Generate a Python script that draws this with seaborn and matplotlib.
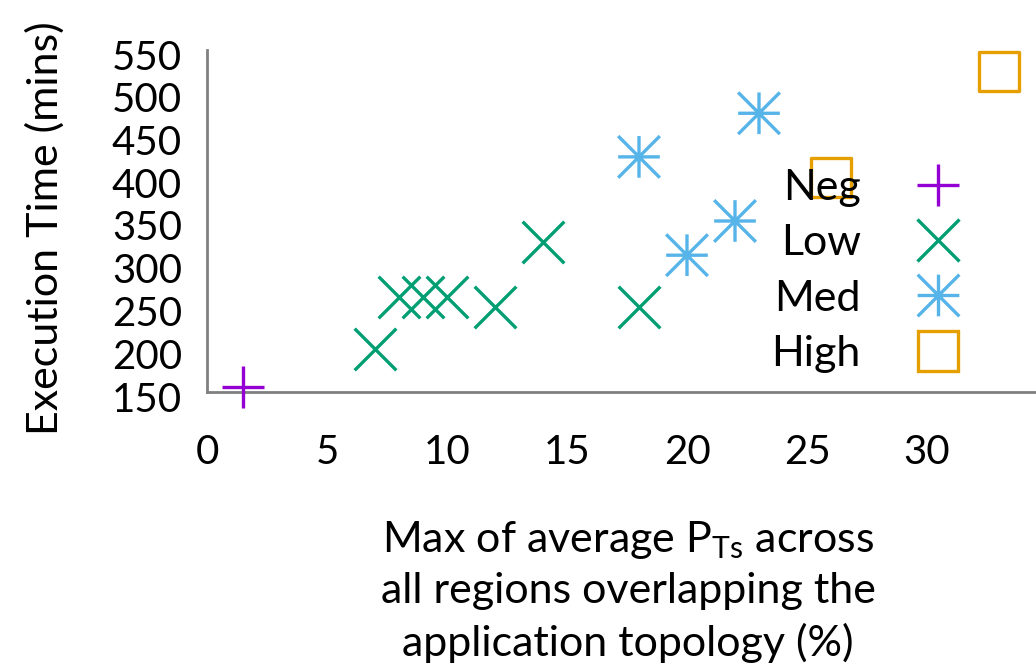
import numpy as np
import pandas as pd
import matplotlib
matplotlib.use("Agg")
import matplotlib.pyplot as plt
import matplotlib.transforms as mtransforms
import seaborn as sns
from matplotlib.lines import Line2D
from matplotlib.path import Path

# ---- data ----
categories = ["Neg", "Low", "Med", "High"]
neg_x = [1.5]
neg_y = [156]
low_x = [7.0, 8.0, 9.0, 10.0, 12.0, 14.0, 18.0]
low_y = [200, 261, 261, 261, 250, 325, 250]
med_x = [18.0, 20.0, 22.0, 23.0]
med_y = [425, 310, 350, 476]
high_x = [26.0, 33.0]
high_y = [401, 525]
x_ticks = [0, 5, 10, 15, 20, 25, 30]
y_ticks = [150, 200, 250, 300, 350, 400, 450, 500, 550]

colors = {"Neg": "#9400D3", "Low": "#009E73", "Med": "#56B4E9", "High": "#E69F00"}

sns.set_theme(style="white")
plt.rcParams['font.family'] = ['Lato', 'DejaVu Sans']
plt.rcParams['mathtext.fontset'] = 'custom'
plt.rcParams['mathtext.rm'] = 'Lato'
plt.rcParams['mathtext.it'] = 'Lato'
plt.rcParams['text.color'] = 'black'
plt.rcParams['axes.labelcolor'] = 'black'

asterisk = Path([(-1, 0), (1, 0), (0, -1), (0, 1), (-1, -1), (1, 1), (-1, 1), (1, -1)],
                [Path.MOVETO, Path.LINETO] * 4)

frames = {
    "Neg": pd.DataFrame({"x": neg_x, "y": neg_y}),
    "Low": pd.DataFrame({"x": low_x, "y": low_y}),
    "Med": pd.DataFrame({"x": med_x, "y": med_y}),
    "High": pd.DataFrame({"x": high_x, "y": high_y}),
}

fig = plt.figure(figsize=(10.36, 6.71), dpi=100)
ax = fig.add_axes([207/1036, 1 - 392/671, 1 - 207/1036, 342/671])

lw = 2.4
ms = 30
sns.scatterplot(data=frames["Neg"], x="x", y="y", marker="+", s=ms**2, color=colors["Neg"],
                linewidth=lw, ax=ax, clip_on=False, zorder=3)
sns.scatterplot(data=frames["Low"], x="x", y="y", marker="x", s=ms**2, color=colors["Low"],
                linewidth=lw, ax=ax, clip_on=False, zorder=3)
sns.scatterplot(data=frames["Med"], x="x", y="y", marker=asterisk, s=ms**2,
                facecolors="none", edgecolors=colors["Med"],
                linewidth=lw, ax=ax, clip_on=False, zorder=3)
sns.scatterplot(data=frames["High"], x="x", y="y", marker="s", s=(ms*0.95)**2,
                facecolors="none", edgecolors=colors["High"],
                linewidth=lw, ax=ax, clip_on=False, zorder=3)

ax.set_xlim(0, 829/24)
ax.set_ylim(150, 550)
ax.set_xticks(x_ticks)
ax.set_yticks(y_ticks)
ax.set_xticklabels([str(v) for v in x_ticks])
ax.set_yticklabels([str(v) for v in y_ticks])

for side in ["top", "right"]:
    ax.spines[side].set_visible(False)
for side in ["left", "bottom"]:
    ax.spines[side].set_color("#808080")
    ax.spines[side].set_linewidth(2.0)
ax.tick_params(axis="both", direction="in", length=16, width=2.0, color="#808080",
               labelsize=29, labelcolor="black")
ax.tick_params(axis="x", pad=30)
ax.tick_params(axis="y", pad=18)
offset = mtransforms.ScaledTranslation(0, -8/100, fig.dpi_scale_trans)
for t in ax.get_yticklabels():
    t.set_va("center")
    t.set_transform(t.get_transform() + offset)

ax.set_ylabel("Execution Time (mins)", fontsize=31)
ax.yaxis.set_label_coords(-0.172, 0.48)
ax.set_xlabel("Max of average P$_{\\mathrm{Ts}}$ across\nall regions overlapping the\napplication topology (%)",
              fontsize=31, linespacing=1.38)
ax.xaxis.set_label_coords(0.508, -0.37)

handles = [
    Line2D([], [], linestyle="none", marker="+", markersize=ms, markeredgewidth=lw, color=colors["Neg"]),
    Line2D([], [], linestyle="none", marker="x", markersize=ms, markeredgewidth=lw, color=colors["Low"]),
    Line2D([], [], linestyle="none", marker=asterisk, markersize=ms, markeredgewidth=lw,
           markerfacecolor="none", color=colors["Med"]),
    Line2D([], [], linestyle="none", marker="s", markersize=ms*0.95, markeredgewidth=lw,
           markerfacecolor="none", color=colors["High"]),
]
leg = ax.legend(handles, categories, loc="upper right", bbox_to_anchor=(0.955, 0.765),
                markerfirst=False, frameon=False, fontsize=31, handlelength=1.0,
                handletextpad=1.3, labelspacing=0.4)
for t in leg.get_texts():
    t.set_ha("right")

fig.savefig("out.png", dpi=100)
